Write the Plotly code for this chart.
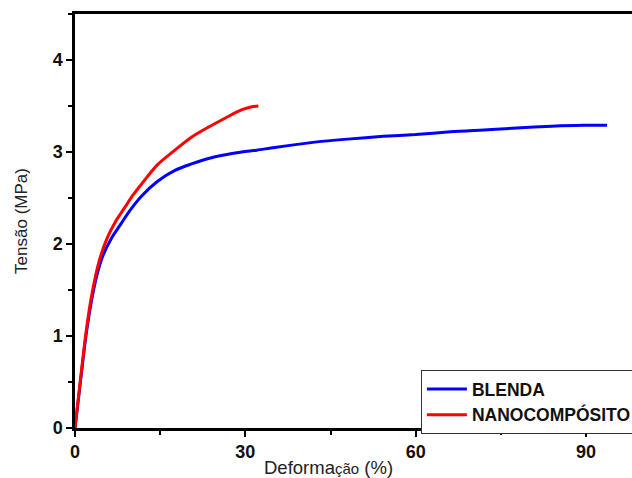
import plotly.graph_objects as go

# Data
blenda_x = [0, 1.05, 1.95, 2.9, 3.85, 4.9, 6.4, 8.0, 9.5, 11.7, 14.5, 17.6, 20.5, 23.5,
            26.5, 29.4, 32.0, 35.2, 42.6, 48.0, 54.3, 60.0, 66.1, 72.0, 77.8, 84.0, 89.5, 93.7]
blenda_y = [0, 0.55, 1.01, 1.38, 1.66, 1.87, 2.06, 2.21, 2.35, 2.52, 2.68, 2.80, 2.87, 2.93,
            2.97, 3.00, 3.02, 3.05, 3.11, 3.14, 3.17, 3.19, 3.22, 3.24, 3.26, 3.28, 3.29, 3.29]

nano_x = [0, 1.0, 1.88, 2.76, 3.64, 4.52, 5.7, 7.2, 8.8, 10.2, 11.7, 14.5, 17.6, 20.5,
          23.5, 26.5, 29.4, 31.0, 32.3]
nano_y = [0, 0.55, 1.01, 1.38, 1.66, 1.87, 2.07, 2.25, 2.40, 2.53, 2.65, 2.86, 3.02, 3.16,
          3.27, 3.37, 3.46, 3.49, 3.50]

x_ticks = [0, 30, 60, 90]
y_ticks = [0, 1, 2, 3, 4]

FONT = "Liberation Sans, Arial, sans-serif"

fig = go.Figure()
fig.add_trace(go.Scatter(x=blenda_x, y=blenda_y, mode="lines", name="BLENDA",
                         line=dict(color="#0000ff", width=3, shape="spline", smoothing=0.8)))
fig.add_trace(go.Scatter(x=nano_x, y=nano_y, mode="lines", name="NANOCOMPÓSITO",
                         line=dict(color="#ff0000", width=3, shape="spline", smoothing=0.8)))

fig.update_layout(
    width=632, height=478,
    margin=dict(l=75, r=0, t=14, b=50, autoexpand=False),
    paper_bgcolor="white", plot_bgcolor="white",
    font=dict(family=FONT, color="#111111"),
    showlegend=True,
    legend=dict(x=0.621, y=0.140, xanchor="left", yanchor="top",
                bgcolor="white", bordercolor="#333333", borderwidth=1,
                font=dict(size=17.5, family=FONT, color="#111111", weight="bold"),
                tracegroupgap=0, itemwidth=40),
    annotations=[dict(text="Deforma<span style='font-size:15px'>ção</span> (%)",
                      xref="paper", yref="paper", x=0.456, y=-0.0966,
                      xanchor="center", yanchor="middle", showarrow=False,
                      font=dict(size=18.5, family=FONT, color="#222222"))],
)

fig.update_xaxes(
    range=[0, 98.1], tickvals=x_ticks, ticktext=[str(v) for v in x_ticks],
    showgrid=False, zeroline=False, showline=True, mirror=True, linecolor="black", linewidth=2.5,
    ticks="outside", ticklen=6, tickwidth=2, tickcolor="black",
    minor=dict(ticks="outside", ticklen=4, tickwidth=2, tickcolor="black", dtick=15, tick0=0, showgrid=False),
    tickfont=dict(size=18, family=FONT, color="#111111", weight="bold"),
)
fig.update_yaxes(
    range=[0, 4.5], tickvals=y_ticks, ticktext=[str(v) for v in y_ticks],
    showgrid=False, zeroline=False, showline=True, linecolor="black", linewidth=2.5,
    ticks="outside", ticklen=6, tickwidth=2, tickcolor="black",
    minor=dict(ticks="outside", ticklen=4, tickwidth=2, tickcolor="black", dtick=0.5, tick0=0, showgrid=False),
    tickfont=dict(size=18, family=FONT, color="#111111", weight="bold"),
    title=dict(text="Tensão (MPa)", font=dict(size=17, family=FONT, color="#222222"), standoff=21),
)

fig.write_html("out.html", post_script="document.body.style.margin='0';",
               config={"displayModeBar": False})
